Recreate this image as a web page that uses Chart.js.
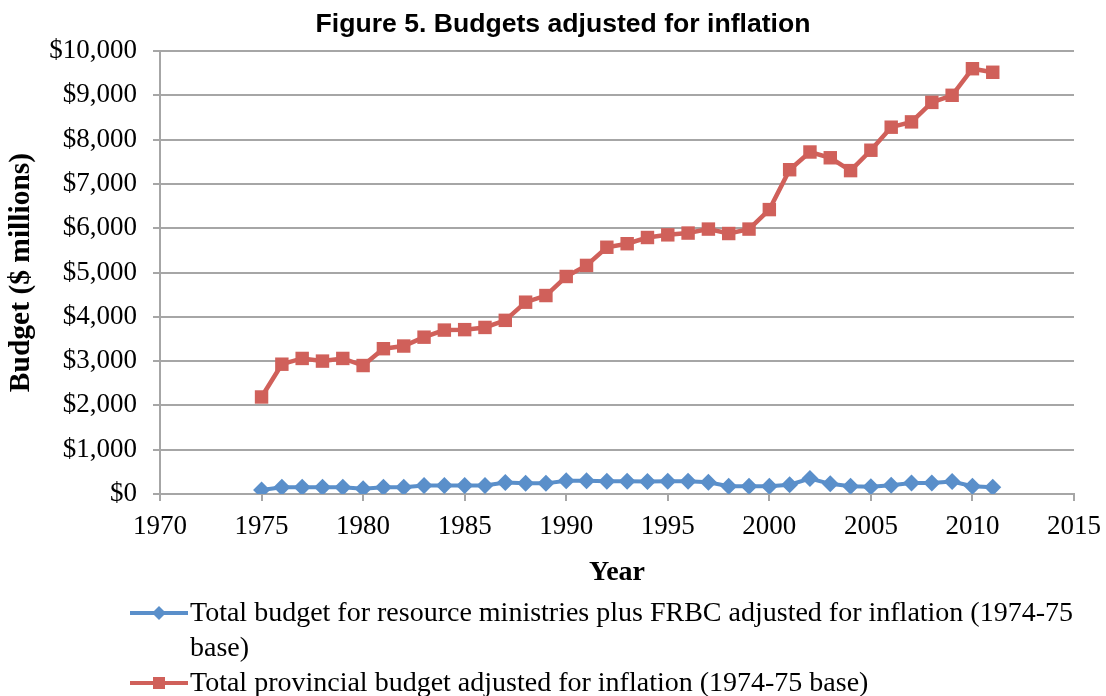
<!DOCTYPE html>
<html>
<head>
<meta charset="utf-8">
<script src="https://cdn.jsdelivr.net/npm/chart.js@4.4.1/dist/chart.umd.min.js"></script>
<style>
  html, body { margin: 0; padding: 0; background: #ffffff; }
  #wrap { width: 1106px; height: 696px; position: relative; }
</style>
</head>
<body>
<div id="wrap"><canvas id="chart" width="1106" height="696"></canvas></div>
<script>
// Fiscal years (1974-75 base dollars, $ millions)
const years = [1975, 1976, 1977, 1978, 1979, 1980, 1981, 1982, 1983, 1984,
  1985, 1986, 1987, 1988, 1989, 1990, 1991, 1992, 1993, 1994,
  1995, 1996, 1997, 1998, 1999, 2000, 2001, 2002, 2003, 2004,
  2005, 2006, 2007, 2008, 2009, 2010, 2011];

const resourceBudget = [90, 150, 150, 150, 150, 120, 150, 150, 190, 190,
  190, 190, 260, 240, 240, 300, 300, 290, 290, 280,
  285, 285, 263, 175, 175, 175, 210, 350, 230, 175,
  165, 200, 250, 250, 280, 175, 150];

const provincialBudget = [2190, 2930, 3060, 3000, 3060, 2900, 3280, 3340, 3540, 3700,
  3710, 3760, 3920, 4330, 4480, 4910, 5160, 5570, 5650, 5790,
  5850, 5890, 5980, 5880, 5980, 6420, 7320, 7720, 7590, 7300,
  7760, 8280, 8400, 8840, 9000, 9600, 9520];

const seriesLabels = [
  ['Total budget for resource ministries plus FRBC adjusted for inflation (1974-75', 'base)'],
  ['Total provincial budget adjusted for inflation (1974-75 base)']
];

const titleText = 'Figure 5. Budgets adjusted for inflation';
const xTitle = 'Year';
const yTitle = 'Budget ($ millions)';

const BLUE = '#5a8fca';
const RED = '#d0605a';
const GRID = '#a6a6a6';
const SERIF = '"Liberation Serif", "Times New Roman", serif';
const SANS = '"Liberation Sans", Arial, sans-serif';

const toPoints = (vals) => years.map((yr, i) => ({ x: yr, y: vals[i] }));

// Heading centred over the page, above the plot
const pageTitle = {
  id: 'pageTitle',
  afterDraw(chart) {
    const ctx = chart.ctx;
    ctx.save();
    ctx.font = 'bold 26.6px ' + SANS;
    ctx.fillStyle = '#000';
    ctx.textAlign = 'center';
    ctx.textBaseline = 'middle';
    ctx.fillText(titleText, 563, 25);
    ctx.restore();
  }
};

// Legend drawn below the axes, with the long label wrapped on two lines
const bottomLegend = {
  id: 'bottomLegend',
  afterDraw(chart) {
    const ctx = chart.ctx;
    ctx.save();
    ctx.font = '28px ' + SERIF;
    ctx.textBaseline = 'middle';
    ctx.fillStyle = '#000';
    const x0 = 130, x1 = 188, textX = 190, lineH = 35;
    let y = 613;
    chart.data.datasets.forEach((ds, i) => {
      // sample line
      ctx.strokeStyle = ds.borderColor;
      ctx.lineWidth = 4;
      ctx.beginPath();
      ctx.moveTo(x0, y);
      ctx.lineTo(x1, y);
      ctx.stroke();
      // sample marker
      ctx.fillStyle = ds.backgroundColor;
      const cx = (x0 + x1) / 2;
      if (ds.pointStyle === 'rectRot') {
        ctx.beginPath();
        ctx.moveTo(cx, y - 7);
        ctx.lineTo(cx + 7, y);
        ctx.lineTo(cx, y + 7);
        ctx.lineTo(cx - 7, y);
        ctx.closePath();
        ctx.fill();
      } else {
        ctx.fillRect(cx - 6, y - 6, 12, 12);
      }
      ctx.fillStyle = '#000';
      seriesLabels[i].forEach((line) => {
        ctx.fillText(line, textX, y + 1);
        y += lineH;
      });
    });
    ctx.restore();
  }
};

new Chart(document.getElementById('chart'), {
  type: 'line',
  data: {
    datasets: [
      {
        label: seriesLabels[0].join(' '),
        data: toPoints(resourceBudget),
        borderColor: BLUE,
        backgroundColor: BLUE,
        borderWidth: 4,
        pointStyle: 'rectRot',
        pointRadius: 8.5,
        pointHoverRadius: 8.5,
        pointBorderWidth: 0,
        tension: 0
      },
      {
        label: seriesLabels[1][0],
        data: toPoints(provincialBudget),
        borderColor: RED,
        backgroundColor: RED,
        borderWidth: 4.5,
        pointStyle: 'rect',
        pointRadius: 9.5,
        pointHoverRadius: 9.5,
        pointBorderWidth: 0,
        tension: 0
      }
    ]
  },
  options: {
    responsive: false,
    animation: false,
    layout: { padding: { left: 0, right: 32, top: 51, bottom: 106 } },
    plugins: {
      legend: { display: false },
      tooltip: { enabled: false },
      title: { display: false }
    },
    scales: {
      x: {
        type: 'linear',
        min: 1970,
        max: 2015,
        afterFit(scale) {
          scale.height = 96;
          // the end labels may run into the margins
          scale.paddingLeft = 0;
          scale.paddingRight = 0;
        },
        ticks: {
          stepSize: 5,
          color: '#000',
          font: { family: SERIF, size: 27 },
          padding: 10,
          maxRotation: 0,
          callback: (v) => String(v)
        },
        grid: {
          drawOnChartArea: false,
          drawTicks: true,
          tickLength: 7,
          color: GRID,
          lineWidth: 2
        },
        border: { color: GRID, width: 2 },
        title: {
          display: true,
          text: xTitle,
          color: '#000',
          font: { family: SERIF, size: 28, weight: 'bold' },
          padding: { top: 0, bottom: 0 }
        }
      },
      y: {
        min: 0,
        max: 10000,
        afterFit(scale) { scale.width = 160; },
        ticks: {
          stepSize: 1000,
          color: '#000',
          font: { family: SERIF, size: 27 },
          padding: 16,
          callback: (v) => '$' + v.toLocaleString('en-US')
        },
        grid: {
          color: GRID,
          lineWidth: 2,
          drawTicks: true,
          tickLength: 7
        },
        border: { color: GRID, width: 2 },
        title: {
          display: true,
          text: yTitle,
          color: '#000',
          font: { family: SERIF, size: 29.5, weight: 'bold' },
          padding: { top: 4, bottom: 0 }
        }
      }
    }
  },
  plugins: [pageTitle, bottomLegend]
});
</script>
</body>
</html>
